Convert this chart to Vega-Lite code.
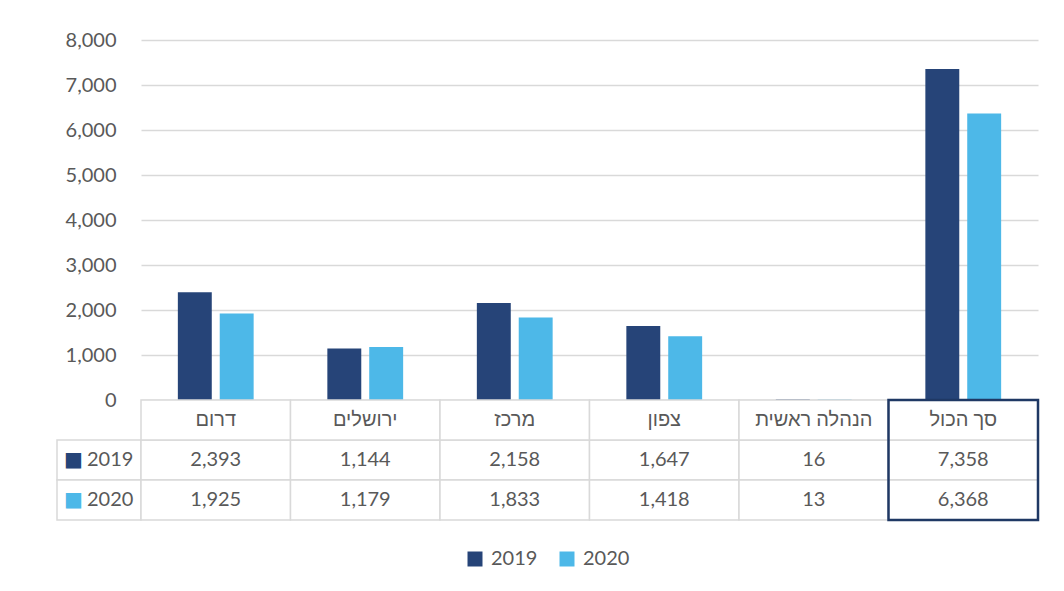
{
  "$schema": "https://vega.github.io/schema/vega-lite/v6.json",
  "padding": {"left": 56, "top": 30, "right": 0, "bottom": 0},
  "background": "white",
  "config": {
    "view": {"stroke": null},
    "font": "Lato, Liberation Sans, sans-serif",
    "text": {"font": "Lato, Liberation Sans, sans-serif"},
    "legend": {"layout": {"bottom": {"anchor": "middle"}}}
  },
  "datasets": {
    "t": [
      {"cat": "דרום", "year": "2019", "value": 2393},
      {"cat": "דרום", "year": "2020", "value": 1925},
      {"cat": "ירושלים", "year": "2019", "value": 1144},
      {"cat": "ירושלים", "year": "2020", "value": 1179},
      {"cat": "מרכז", "year": "2019", "value": 2158},
      {"cat": "מרכז", "year": "2020", "value": 1833},
      {"cat": "צפון", "year": "2019", "value": 1647},
      {"cat": "צפון", "year": "2020", "value": 1418},
      {"cat": "הנהלה ראשית", "year": "2019", "value": 16},
      {"cat": "הנהלה ראשית", "year": "2020", "value": 13},
      {"cat": "סך הכול", "year": "2019", "value": 7358},
      {"cat": "סך הכול", "year": "2020", "value": 6368}
    ]
  },
  "columns": 2,
  "spacing": 0,
  "bounds": "flush",
  "align": "each",
  "concat": [
    {
      "width": 84,
      "height": 360,
      "data": {"values": []},
      "mark": "point"
    },
    {
      "width": 897,
      "height": 360,
      "data": {"name": "t"},
      "mark": {"type": "bar"},
      "encoding": {
        "x": {"field": "cat", "type": "nominal", "scale": {"domain": ["דרום", "ירושלים", "מרכז", "צפון", "הנהלה ראשית", "סך הכול"], "paddingInner": 0, "paddingOuter": 0}, "axis": null},
        "xOffset": {"field": "year", "type": "nominal", "scale": {"paddingInner": 0.19, "paddingOuter": 0.88}},
        "y": {
          "field": "value", "type": "quantitative",
          "scale": {"domain": [0, 8000]},
          "axis": {"values": [0, 1000, 2000, 3000, 4000, 5000, 6000, 7000, 8000], "format": ",.0f", "title": null, "grid": true, "gridColor": "#d9d9d9", "gridWidth": 1.3, "domain": false, "ticks": false, "labelPadding": 25, "labelFontSize": 20, "labelColor": "#595959", "labelFont": "Lato, Liberation Sans, sans-serif"}
        },
        "color": {
          "field": "year", "type": "nominal",
          "scale": {"domain": ["2019", "2020"], "range": ["#264478", "#4DB8E8"]},
          "legend": {"orient": "bottom", "title": null, "direction": "horizontal", "symbolType": "square", "symbolSize": 225, "symbolStrokeWidth": 0, "labelFontSize": 20, "labelColor": "#595959", "labelFont": "Lato, Liberation Sans, sans-serif", "columnPadding": 19, "labelOffset": 6, "offset": 27}
        }
      }
    },
    {
      "width": 84,
      "height": 120,
      "data": {"name": "t"},
      "transform": [{"filter": "datum.cat == 'דרום'"}],
      "encoding": {
        "y": {"field": "year", "type": "nominal", "scale": {"domain": ["hdr", "2019", "2020"], "paddingInner": 0, "paddingOuter": 0}, "axis": null}
      },
      "layer": [
        {"mark": {"type": "rect", "fill": "white", "stroke": "#d9d9d9", "strokeWidth": 1.5}},
        {"mark": {"type": "text", "text": "■", "font": "DejaVu Sans", "fontSize": 20, "dx": -25.5}, "encoding": {"color": {"field": "year", "type": "nominal", "legend": null}}},
        {"mark": {"type": "text", "align": "left", "dx": -12, "fontSize": 20, "color": "#595959"}, "encoding": {"text": {"field": "year"}}}
      ]
    },
    {
      "width": 897,
      "height": 120,
      "data": {"name": "t"},
      "encoding": {
        "x": {"field": "cat", "type": "nominal", "scale": {"domain": ["דרום", "ירושלים", "מרכז", "צפון", "הנהלה ראשית", "סך הכול"], "paddingInner": 0, "paddingOuter": 0}, "axis": null}
      },
      "layer": [
        {
          "mark": {"type": "rect", "fill": "white", "stroke": "#d9d9d9", "strokeWidth": 1.5},
          "encoding": {"y": {"field": "year", "type": "nominal", "scale": {"domain": ["hdr", "2019", "2020"], "paddingInner": 0, "paddingOuter": 0}, "axis": null}}
        },
        {
          "mark": {"type": "text", "fontSize": 20, "color": "#595959"},
          "encoding": {"y": {"field": "year", "type": "nominal"}, "text": {"field": "value", "type": "quantitative", "format": ","}}
        },
        {
          "transform": [{"filter": "datum.year == '2019'"}],
          "mark": {"type": "rect", "fill": "white", "stroke": "#d9d9d9", "strokeWidth": 1.5},
          "encoding": {"y": {"datum": "hdr", "type": "nominal"}}
        },
        {
          "transform": [{"filter": "datum.year == '2019'"}],
          "mark": {"type": "text", "fontSize": 20, "color": "#595959"},
          "encoding": {"y": {"datum": "hdr", "type": "nominal"}, "text": {"field": "cat"}}
        },
        {
          "transform": [{"filter": "datum.year == '2019' && datum.cat == 'סך הכול'"}],
          "mark": {"type": "rect", "fill": null, "stroke": "#1F3864", "strokeWidth": 2.5}
        }
      ]
    }
  ]
}
